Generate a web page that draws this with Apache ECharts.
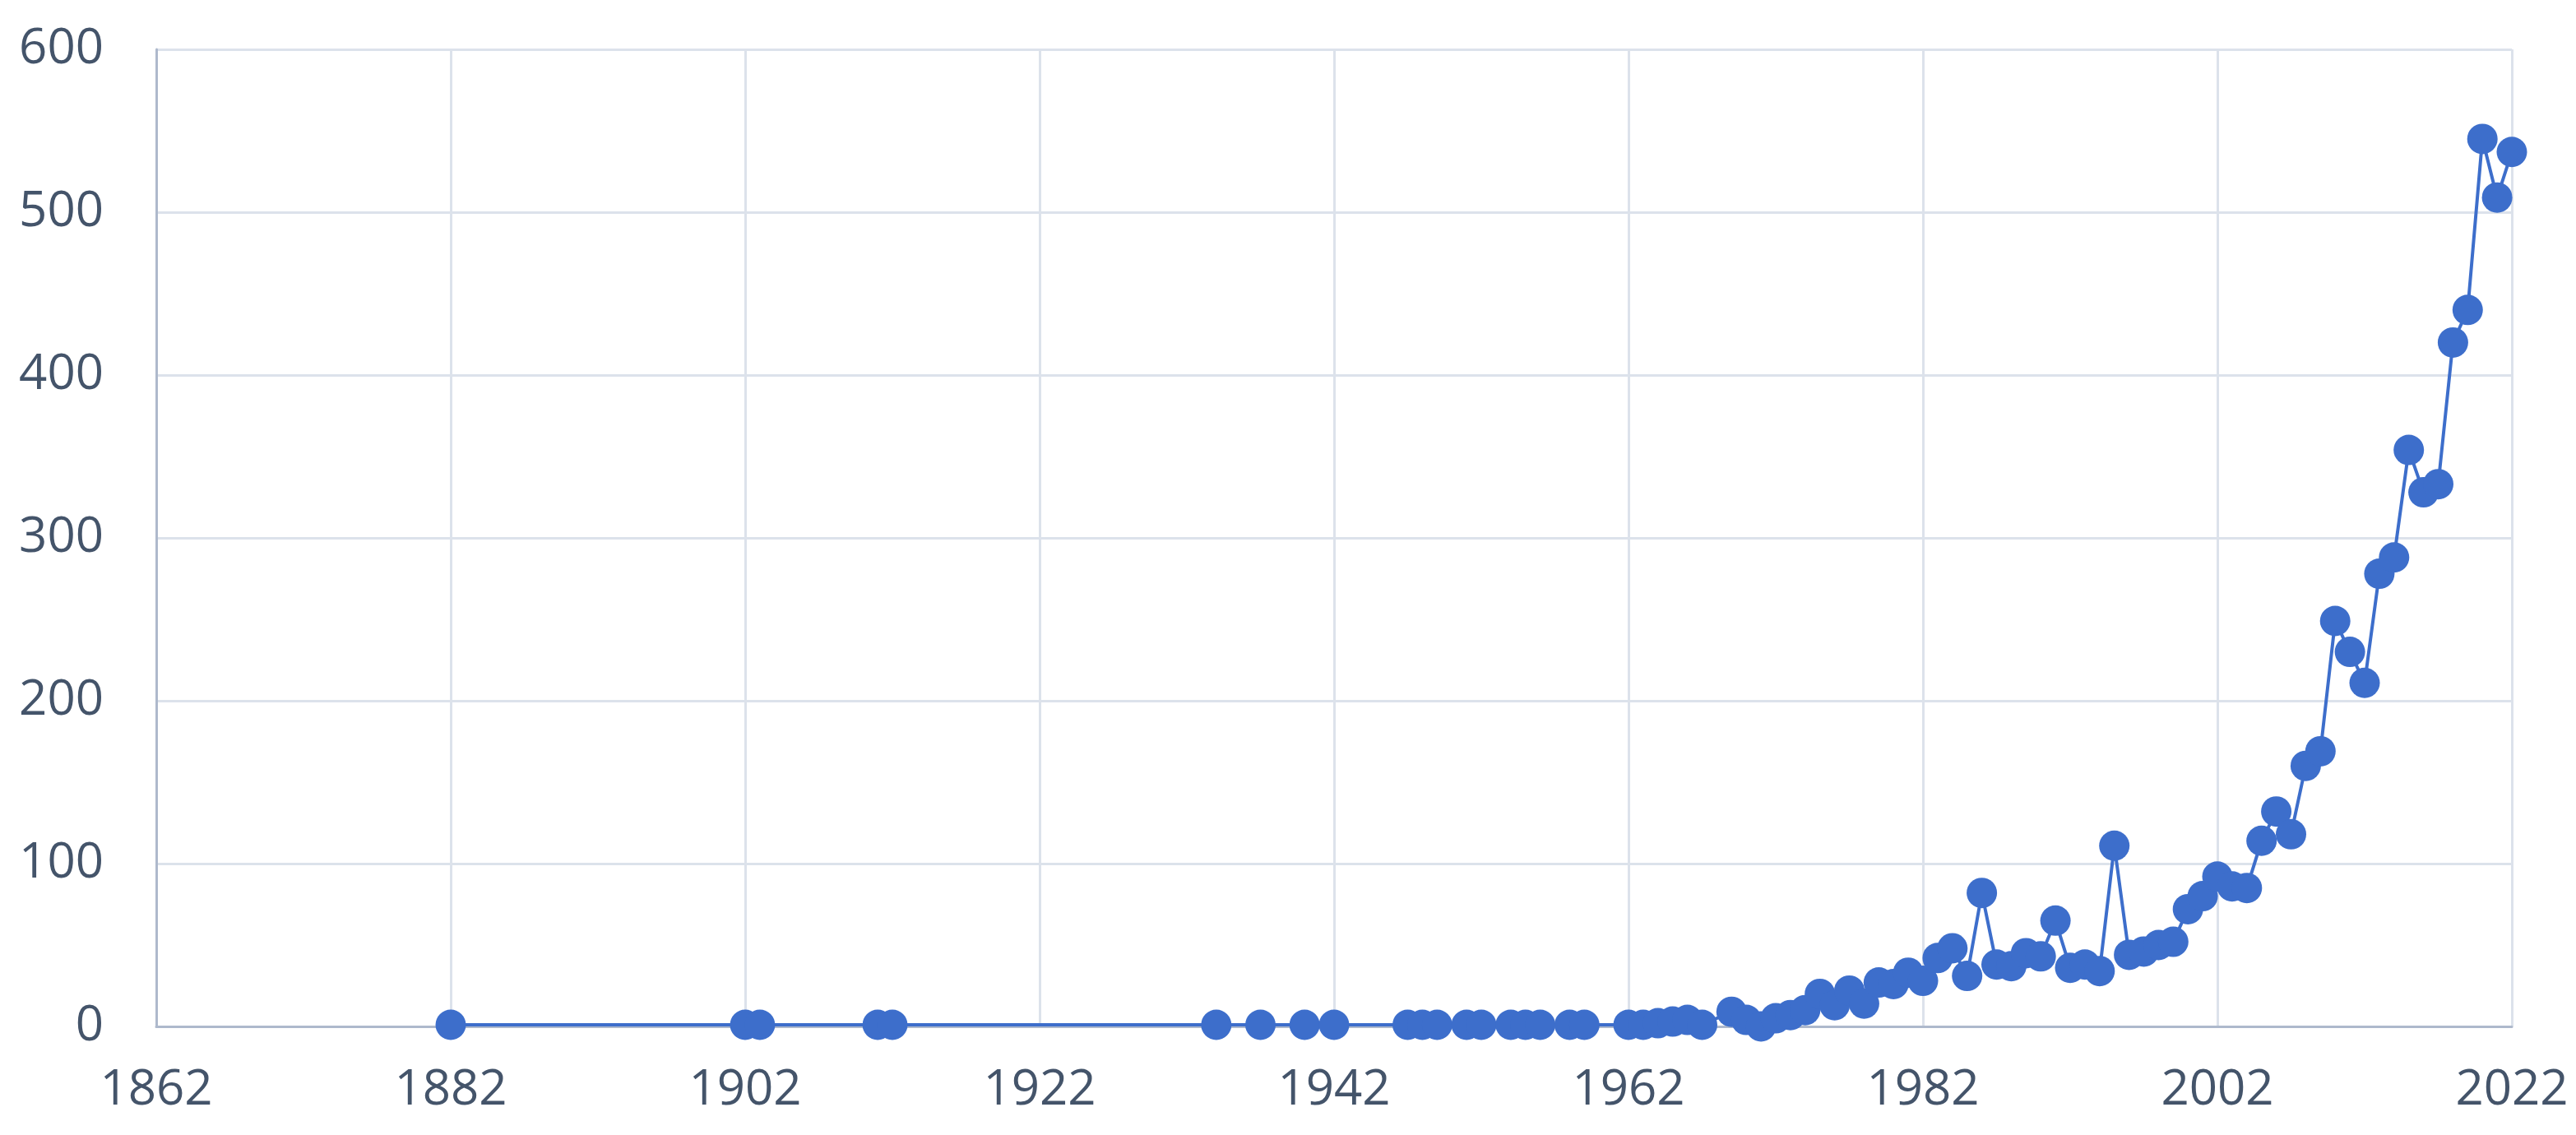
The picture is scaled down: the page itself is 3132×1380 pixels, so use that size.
<!DOCTYPE html>
<html>
<head>
<meta charset="utf-8">
<script src="https://cdn.jsdelivr.net/npm/echarts@6/dist/echarts.min.js"></script>
<style>
  html, body { margin: 0; padding: 0; background: #fff; }
  #chart { width: 3132px; height: 1380px; }
</style>
</head>
<body>
<div id="chart"></div>
<script>
// years and counts
var years = [1882, 1902, 1903, 1911, 1912, 1934, 1937, 1940, 1942,
  1947, 1948, 1949, 1951, 1952, 1954, 1955, 1956, 1958, 1959,
  1962, 1963, 1964, 1965, 1966, 1967,
  1969, 1970, 1971, 1972, 1973, 1974, 1975, 1976, 1977, 1978, 1979,
  1980, 1981, 1982, 1983, 1984, 1985, 1986, 1987, 1988, 1989,
  1990, 1991, 1992, 1993, 1994, 1995, 1996, 1997, 1998, 1999,
  2000, 2001, 2002, 2003, 2004, 2005, 2006, 2007, 2008, 2009,
  2010, 2011, 2012, 2013, 2014, 2015, 2016, 2017, 2018, 2019,
  2020, 2021, 2022];
var counts = [1, 1, 1, 1, 1, 1, 1, 1, 1,
  1, 1, 1, 1, 1, 1, 1, 1, 1, 1,
  1, 1, 2, 3, 4, 1,
  9, 4, 0, 5, 7, 10, 20, 13, 22, 14, 27,
  26, 33, 28, 42, 48, 31, 82, 38, 37, 45,
  43, 65, 36, 38, 34, 111, 44, 46, 50, 52,
  72, 80, 92, 86, 85, 114, 132, 118, 160, 169,
  249, 230, 211, 278, 288, 354, 328, 333, 420, 440,
  545, 509, 537];

var xMin = 1862, xMax = 2022, xStep = 20;
var yMin = 0, yMax = 600, yStep = 100;

var points = years.map(function (y, i) { return [y, counts[i]]; });

var myChart = echarts.init(document.getElementById('chart'));
myChart.setOption({
  animation: false,
  grid: { left: 190, right: 78, top: 60, bottom: 132, containLabel: false },
  xAxis: {
    type: 'value',
    min: xMin,
    max: xMax,
    interval: xStep,
    axisLine: { show: true, lineStyle: { color: '#AEB9CC', width: 3 } },
    axisTick: { show: false },
    splitLine: { show: true, lineStyle: { color: '#DCE2EB', width: 3 } },
    axisLabel: {
      margin: 48,
      fontFamily: 'Open Sans',
      fontSize: 60,
      color: '#44546A',
      showMinLabel: true,
      showMaxLabel: true,
      formatter: function (v) { return String(v); }
    }
  },
  yAxis: {
    type: 'value',
    min: yMin,
    max: yMax,
    interval: yStep,
    axisLine: { show: true, lineStyle: { color: '#AEB9CC', width: 3 } },
    axisTick: { show: false },
    splitLine: { show: true, lineStyle: { color: '#DCE2EB', width: 3 } },
    axisLabel: {
      margin: 64,
      fontFamily: 'Open Sans',
      fontSize: 60,
      color: '#44546A'
    }
  },
  series: [{
    type: 'line',
    data: points,
    symbol: 'circle',
    symbolSize: 37,
    showAllSymbol: true,
    lineStyle: { color: '#3D6ECB', width: 4 },
    itemStyle: { color: '#3D6ECB' }
  }]
});
</script>
</body>
</html>
